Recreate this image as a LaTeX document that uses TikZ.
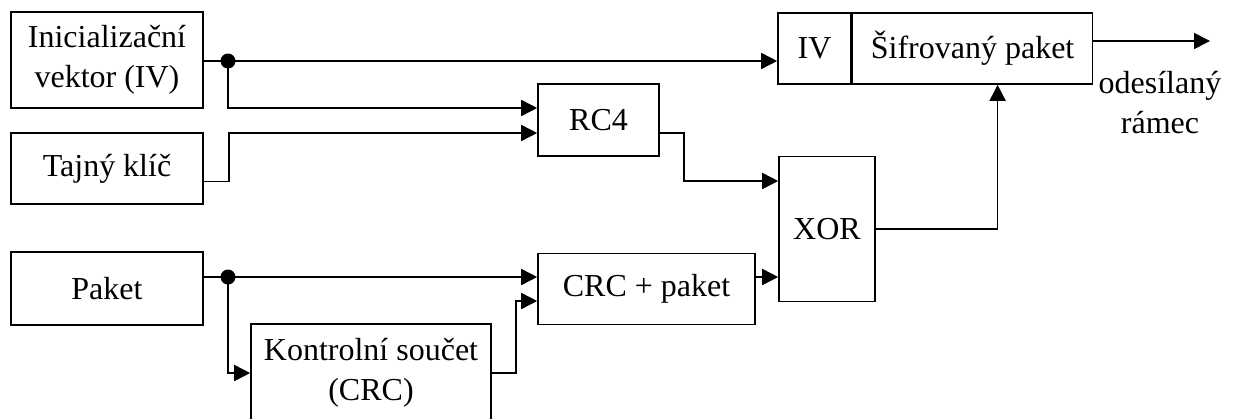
\documentclass[tikz,border=0pt]{standalone}
\usepackage{fontspec}
\setmainfont{Liberation Serif}
\usetikzlibrary{arrows.meta}

\begin{document}
\begin{tikzpicture}[x=0.5pt,y=-0.5pt,line width=0.8pt,
  >={Triangle[length=8pt,width=8pt]},
  font=\fontsize{16}{20}\selectfont,
  blok/.style={draw,inner sep=0pt,align=center},
  dot/.style={circle,fill,inner sep=0pt,minimum size=7.5pt}]
  \useasboundingbox (0,0) rectangle (1236,418);
  \clip (0,0) rectangle (1236,418);
  % vstupy
  \node[blok,minimum width=96pt,minimum height=48pt] (init) at (107,60) {Inicializační\\vektor (IV)};
  \node[blok,minimum width=96pt,minimum height=35.5pt] (tajny) at (107,168.5) {Tajný klíč};
  \node[blok,minimum width=96pt,minimum height=36.5pt] (paket) at (107,288.5) {Paket};
  \node[blok,minimum width=120pt,minimum height=49pt] (kontrola) at (371,373) {Kontrolní součet\\(CRC)};
  % zpracovani
  \node[blok,minimum width=60.5pt,minimum height=36pt] (rc4) at (598.5,120) {RC4};
  \node[blok,minimum width=108.5pt,minimum height=35.5pt] (crc) at (646.5,289) {CRC + paket};
  \node[blok,minimum width=48pt,minimum height=72.5pt] (xor) at (827,229) {XOR};
  % vystupni ramec
  \node[blok,minimum width=36.5pt,minimum height=35.5pt] (iv) at (814.5,48.5) {IV};
  \node[blok,minimum width=120pt,minimum height=35.5pt,anchor=west] (sifr) at (iv.east) {Šifrovaný paket};
  \node[align=center] (ramec) at (1160,103) {odesílaný\\rámec};

  \coordinate (d1) at (228,61);
  \coordinate (d2) at (228,277);
  \coordinate (ven) at (1210,41);

  \draw[->] (init.east |- d1) -- (d1 -| iv.west);
  \draw[->] (d1) |- ([yshift=6pt]rc4.west);
  \draw[->] ([yshift=-6.5pt]tajny.east) -- ++(25,0) |- ([yshift=-6.5pt]rc4.west);
  \draw[->] ([yshift=-6.5pt]rc4.east) -- ++(24,0) |- ([yshift=24pt]xor.west);
  \draw[->] (paket.east |- d2) -- (d2 -| crc.west);
  \draw[->] (d2) |- (kontrola.west);
  \draw[->] (kontrola.east) -- ++(24,0) |- ([yshift=-6pt]crc.west);
  \draw[->] (crc.east |- d2) -- (d2 -| xor.west);
  \draw[->] (xor.east) -| ([xshift=12.5pt]sifr.south);
  \draw[->] ([yshift=3.75pt]sifr.east) -- (ven);
  \node[dot] at (d1) {};
  \node[dot] at (d2) {};
\end{tikzpicture}
\end{document}
